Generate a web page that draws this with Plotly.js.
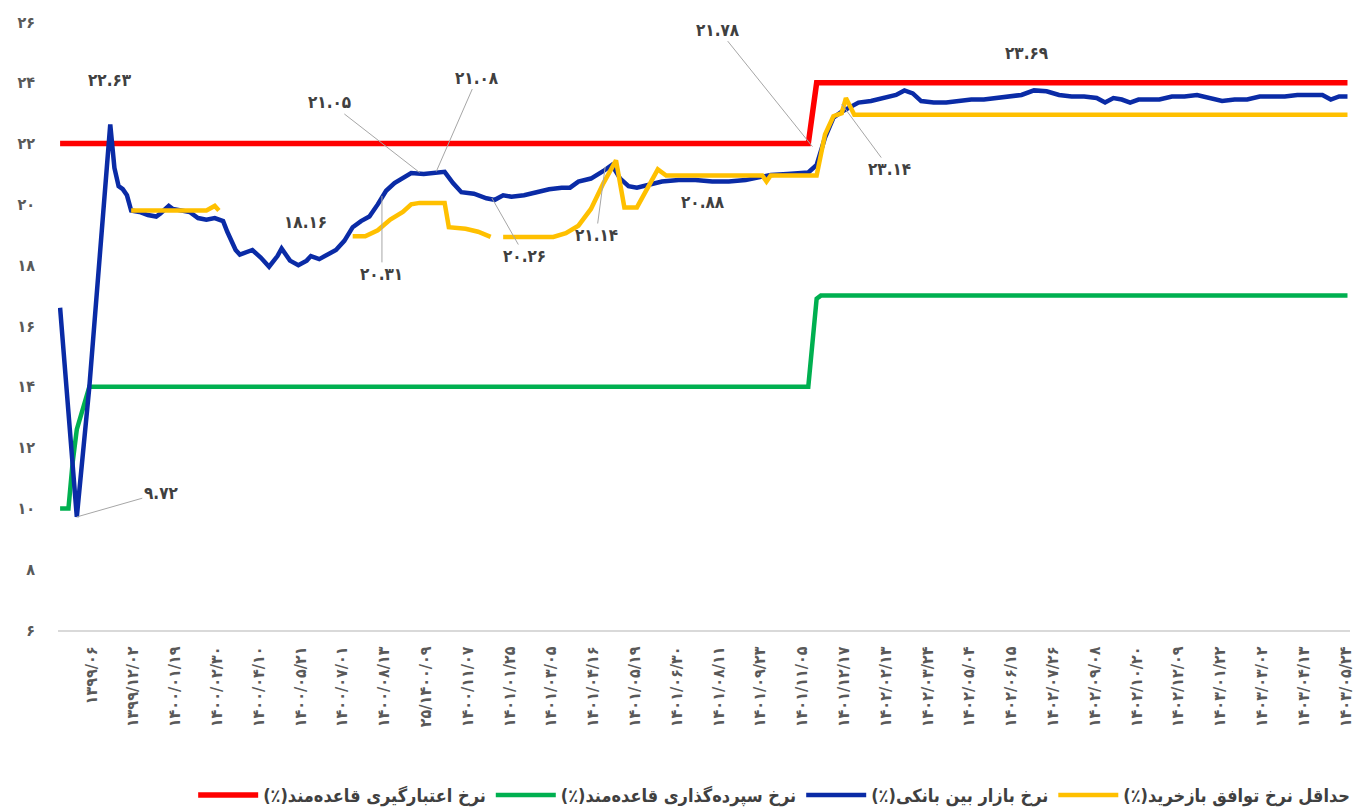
<!DOCTYPE html>
<html>
<head>
<meta charset="utf-8">
<script src="https://cdn.plot.ly/plotly-3.0.1.min.js"></script>
<style>
  html, body { margin: 0; padding: 0; background: #ffffff; }
  #chart { width: 1358px; height: 811px; }
</style>
</head>
<body>
<div id="chart"></div>
<script>
// ---- Tick labels (Jalali dates) ----
const dateLabels = [
  "۱۳۹۹/۰۶", "۱۳۹۹/۱۲/۰۲", "۱۴۰۰/۰۱/۱۹", "۱۴۰۰/۰۲/۳۰", "۱۴۰۰/۰۴/۱۰", "۱۴۰۰/۰۵/۲۱",
  "۱۴۰۰/۰۷/۰۱", "۱۴۰۰/۰۸/۱۳", "۲۵/۱۴۰۰/۰۹", "۱۴۰۰/۱۱/۰۷", "۱۴۰۱/۰۱/۲۵", "۱۴۰۱/۰۳/۰۵",
  "۱۴۰۱/۰۴/۱۶", "۱۴۰۱/۰۵/۱۹", "۱۴۰۱/۰۶/۳۰", "۱۴۰۱/۰۸/۱۱", "۱۴۰۱/۰۹/۲۳", "۱۴۰۱/۱۱/۰۵",
  "۱۴۰۱/۱۲/۱۷", "۱۴۰۲/۰۲/۱۳", "۱۴۰۲/۰۳/۲۴", "۱۴۰۲/۰۵/۰۴", "۱۴۰۲/۰۶/۱۵", "۱۴۰۲/۰۷/۲۶",
  "۱۴۰۲/۰۹/۰۸", "۱۴۰۲/۱۰/۲۰", "۱۴۰۲/۱۲/۰۹", "۱۴۰۳/۰۱/۲۲", "۱۴۰۳/۰۳/۰۲", "۱۴۰۳/۰۴/۱۳",
  "۱۴۰۳/۰۵/۲۴"
];
const yTickValues = [6, 8, 10, 12, 14, 16, 18, 20, 22, 24, 26];
const yTickLabels = ["۶", "۸", "۱۰", "۱۲", "۱۴", "۱۶", "۱۸", "۲۰", "۲۲", "۲۴", "۲۶"];

// ---- Series names ----
const nameRed = "نرخ اعتبارگیری قاعده‌مند(٪)";
const nameGreen = "نرخ سپرده‌گذاری قاعده‌مند(٪)";
const nameBlue = "نرخ بازار بین بانکی(٪)";
const nameYellow = "حداقل نرخ توافق بازخرید(٪)";

// ---- Data (observation index, rate %) ----
const redX = [0, 179, 181, 308];
const redY = [22, 22, 24, 24];

const greenX = [0, 2, 3, 4, 7, 179, 181, 182, 308];
const greenY = [10, 10, 11.5, 12.6, 14, 14, 16.9, 17, 17];

const blueX = [0, 4, 7, 9, 12, 13, 14, 15, 16, 17, 19, 21, 23, 24, 25, 26, 27, 29, 31, 33, 35, 37, 39, 40,
  42, 43, 45, 46, 48, 50, 52, 53, 55, 57, 59, 60, 62, 64, 66, 68, 70, 72, 74, 76, 78, 80, 82, 84, 87, 90,
  92, 94, 96, 99, 102, 104, 106, 108, 111, 114, 117, 120, 122, 124, 127, 130, 132, 134, 136, 138, 141, 144,
  148, 152, 156, 160, 164, 168, 170, 174, 179, 181, 183, 185, 187, 189, 191, 194, 197, 200, 202, 204, 206,
  209, 212, 215, 218, 221, 224, 227, 230, 233, 236, 239, 242, 245, 248, 250, 252, 254, 256, 258, 260, 263,
  266, 269, 272, 275, 278, 281, 284, 287, 290, 293, 296, 299, 302, 304, 306, 308];
const blueY = [16.6, 9.72, 14.0, 17.5, 22.63, 21.2, 20.6, 20.5, 20.3, 19.8, 19.75, 19.65, 19.6, 19.7, 19.85,
  19.95, 19.85, 19.8, 19.75, 19.55, 19.5, 19.55, 19.45, 19.1,
  18.5, 18.35, 18.45, 18.5, 18.25, 17.95, 18.3, 18.55, 18.15, 18.0, 18.15, 18.3, 18.2, 18.35, 18.5, 18.8,
  19.25, 19.45, 19.6, 20.0, 20.45, 20.7, 20.85, 21.03, 21.0, 21.05,
  21.07, 20.7, 20.4, 20.35, 20.2, 20.15, 20.3, 20.25, 20.3, 20.4, 20.5, 20.55, 20.55, 20.75, 20.85, 21.1,
  21.3, 20.85, 20.6, 20.55, 20.65, 20.75,
  20.8, 20.8, 20.75, 20.75, 20.8, 20.9, 20.97, 21.0, 21.05, 21.3, 22.2, 22.85, 23.05, 23.2, 23.35, 23.4,
  23.5, 23.6, 23.75, 23.65, 23.4,
  23.35, 23.35, 23.4, 23.45, 23.45, 23.5, 23.55, 23.6, 23.75, 23.72, 23.6, 23.55, 23.55, 23.5, 23.35, 23.5,
  23.45, 23.35, 23.45, 23.45, 23.45,
  23.55, 23.55, 23.6, 23.5, 23.4, 23.45, 23.45, 23.55, 23.55, 23.55, 23.6, 23.6, 23.6, 23.45, 23.55, 23.55];

const yellowX = [17, 20, 23, 26, 29, 32, 35, 37, 38, 39,
  70, 73, 76, 79, 82, 84, 86, 92, 93, 97, 100, 103, 104,
  106, 110, 114, 118, 121, 124, 127, 130, 133, 135, 138, 140, 143, 145, 155, 168, 169, 170, 181, 183, 185,
  187, 188, 190, 250, 308];
const yellowY = [19.8, 19.8, 19.78, 19.8, 19.8, 19.78, 19.8, 19.95, 19.8, null,
  18.95, 18.95, 19.15, 19.5, 19.75, 20.0, 20.05, 20.05, 19.25, 19.2, 19.1, 18.93, null,
  18.93, 18.93, 18.93, 18.93, 19.05, 19.3, 19.85, 20.7, 21.45, 19.9, 19.9, 20.4, 21.15, 20.95, 20.95, 20.95,
  20.75, 20.95, 20.95, 22.3, 22.9,
  23.0, 23.5, 22.95, 22.95, 22.95];

// ---- Annotations (text, anchor index, anchor value, offsets) ----
const labelTexts = ["۲۲.۶۳", "۹.۷۲", "۱۸.۱۶", "۲۱.۰۵", "۲۱.۰۸", "۲۰.۳۱", "۲۰.۲۶", "۲۱.۱۴", "۲۰.۸۸", "۲۱.۷۸", "۲۳.۶۹", "۲۳.۱۴"];
const labelAtX =   [12,   4,    58.6,  86,    90,    77,    103.3, 130.4, 153.8, 180,   231.3, 187];
const labelAtY =   [24.1, 9.72, 19.42, 21.05, 21.08, 20.28, 20.21, 21.23, 20.08, 21.9,  24.98, 23.3];
const labelArrow = [false, true, false, true, true, true, true, true, false, true, false, true];
const labelAx =    [0,    84,   0,     -90,   41,    0,     33,    -9,    0,     -94,   0,     48];
const labelAy =    [0,    -24,  0,     -70,   -94,   78,    58,    68,    0,     -117,  0,     65];

const fontFam = "DejaVu Sans Condensed, DejaVu Sans, sans-serif";
const textColor = "#404040";
const RLM = "\u200F";

function lineTrace(name, x, y, color, width) {
  return {
    type: "scatter", mode: "lines", name: "<b>" + name + RLM + "</b>", x: x, y: y,
    connectgaps: false,
    line: { color: color, width: width },
    hoverinfo: "skip"
  };
}

const traces = [
  lineTrace(nameRed, redX, redY, "#FF0000", 5.5),
  lineTrace(nameGreen, greenX, greenY, "#00B050", 4.5),
  lineTrace(nameBlue, blueX, blueY, "#0A2BA6", 4.5),
  lineTrace(nameYellow, yellowX, yellowY, "#FFC000", 4.5)
];

const annotations = labelTexts.map((t, i) => ({
  text: "<b>" + t + "</b>",
  x: labelAtX[i], y: labelAtY[i], xref: "x", yref: "y",
  showarrow: labelArrow[i],
  ax: labelAx[i], ay: labelAy[i],
  arrowhead: 0, arrowwidth: 1, arrowcolor: "#A6A6A6", standoff: 0,
  font: { family: fontFam, size: 17, color: textColor }
}));

const tickStart = 7.5, tickStep = 10;
const layout = {
  width: 1358, height: 811,
  margin: { l: 58, r: 8, t: 22, b: 181, autoexpand: false },
  paper_bgcolor: "#ffffff", plot_bgcolor: "#ffffff",
  showlegend: true,
  legend: {
    orientation: "h", x: 1.004, xanchor: "right", y: -0.272, yanchor: "middle",
    font: { family: fontFam, size: 18, color: textColor },
    itemwidth: 60,
    traceorder: "normal"
  },
  xaxis: {
    range: [-0.5, 308.6],
    tickmode: "array",
    tickvals: dateLabels.map((_, k) => tickStart + k * tickStep),
    ticktext: dateLabels.map(s => "<b>" + s + "</b>"),
    tickangle: -90,
    tickfont: { family: fontFam, size: 16, color: "#595959" },
    showgrid: false, zeroline: false,
    showline: true, linecolor: "#D9D9D9", linewidth: 2,
    ticks: "", ticklabelstandoff: 8
  },
  yaxis: {
    range: [6, 26],
    tickmode: "array",
    tickvals: yTickValues,
    ticktext: yTickLabels.map(s => "<b>" + s + "</b>"),
    tickfont: { family: fontFam, size: 16, color: "#595959" },
    showgrid: false, zeroline: false, showline: false,
    ticks: "", ticklabelstandoff: 22
  },
  annotations: annotations
};

Plotly.newPlot("chart", traces, layout, { displayModeBar: false, staticPlot: true });
</script>
</body>
</html>
